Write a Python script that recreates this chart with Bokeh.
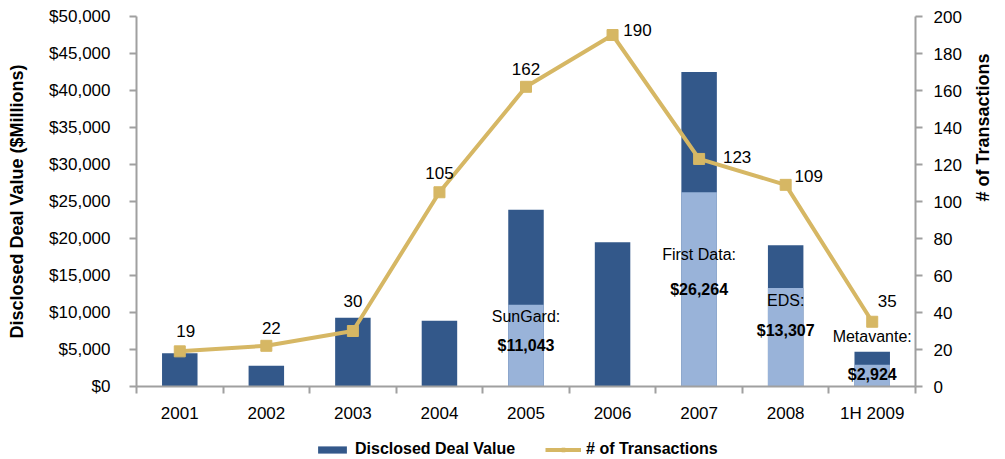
import math
from bokeh.plotting import figure
from bokeh.layouts import column
from bokeh.models import (Range1d, LinearAxis, FixedTicker, NumeralTickFormatter,
                          Legend, LegendItem, ColumnDataSource)
from bokeh.core.properties import value
from bokeh.embed import file_html
from bokeh.resources import INLINE

# ---------------- data ----------------
years = ["2001", "2002", "2003", "2004", "2005", "2006", "2007", "2008", "1H 2009"]
deal_value = [4500, 2800, 9300, 8900, 23900, 19500, 42500, 19100, 4700]
highlight_value = [0, 0, 0, 0, 11043, 0, 26264, 13307, 2924]
highlight_name = ["", "", "", "", "SunGard:", "", "First Data:", "EDS:", "Metavante:"]
transactions = [19, 22, 30, 105, 162, 190, 123, 109, 35]

# ---------------- styles ----------------
DARK = "#33588A"
LIGHT = "#99B3D9"
GOLD = "#D6B764"
AXIS = "#A0A0A0"
FONT = "Liberation Sans"

n = len(years)
xc = [i + 0.5 for i in range(n)]

p = figure(width=1005, height=430, x_range=Range1d(0, n), y_range=Range1d(0, 50000),
           output_backend="svg", toolbar_location=None,
           min_border_left=136, min_border_right=87, min_border_top=16, min_border_bottom=44)
p.xgrid.visible = False
p.ygrid.visible = False
p.outline_line_color = None
p.background_fill_color = "white"
p.border_fill_color = "white"

p.extra_y_ranges = {"tx": Range1d(0, 200)}

# bars
src = ColumnDataSource(dict(x=xc, total=deal_value, hi=highlight_value, tx=transactions))
p.vbar(x="x", top="total", bottom=0, width=0.41, source=src,
       fill_color=DARK, line_color=None)
p.vbar(x="x", top="hi", bottom=0, width=0.41, source=src,
       fill_color=LIGHT, line_color=None)

# line
p.line(x="x", y="tx", source=src, y_range_name="tx", line_color=GOLD, line_width=4)
p.scatter(x="x", y="tx", source=src, y_range_name="tx", marker="square",
          size=11, fill_color=GOLD, line_color=GOLD)

# line labels (pixel offsets, style only)
tx_dx = [6, 5, 0, 0, 0, 25, 38, 23, 15]
tx_dy = [20, 18, 30, 19, 18, 5, 2, 9, 21]
lsrc = ColumnDataSource(dict(x=xc, tx=transactions, t=[str(t) for t in transactions],
                             dx=tx_dx, dy=[-d for d in tx_dy]))
p.text(x="x", y="tx", text="t", source=lsrc, y_range_name="tx",
       x_offset="dx", y_offset="dy", text_align="center", text_baseline="middle",
       text_font=value(FONT), text_font_size="17px", text_color="black")

# deal annotations (pixel offsets below highlighted segment top, style only)
name_dy = [0, 0, 0, 0, 12, 0, 62, 12, -28]
val_dy = [0, 0, 0, 0, 41, 0, 97, 42, 10]
asrc = ColumnDataSource(dict(x=xc, hi=highlight_value, name=highlight_name,
                             val=["${:,}".format(v) if v else "" for v in highlight_value],
                             ndy=name_dy, vdy=val_dy))
p.text(x="x", y="hi", text="name", source=asrc, y_offset="ndy",
       text_align="center", text_baseline="middle",
       text_font=value(FONT), text_font_size="16px", text_color="black")
p.text(x="x", y="hi", text="val", source=asrc, y_offset="vdy",
       text_align="center", text_baseline="middle", text_font_style="bold",
       text_font=value(FONT), text_font_size="16px", text_color="black")

# axes
def style_axis(ax):
    ax.axis_line_color = AXIS
    ax.axis_line_width = 2
    ax.major_tick_line_color = AXIS
    ax.major_tick_line_width = 2
    ax.minor_tick_line_color = None
    ax.major_tick_in = 0
    ax.major_tick_out = 7
    ax.major_label_text_font = FONT
    ax.major_label_text_font_size = "17px"
    ax.major_label_text_color = "black"
    ax.axis_label_text_font = FONT
    ax.axis_label_text_font_size = "18px"
    ax.axis_label_text_font_style = "bold"
    ax.axis_label_text_color = "black"

yl = p.yaxis[0]
style_axis(yl)
yl.ticker = FixedTicker(ticks=list(range(0, 50001, 5000)))
yl.formatter = NumeralTickFormatter(format="$0,0")
yl.axis_label = "Disclosed Deal Value ($Millions)"
yl.major_label_standoff = 19
yl.axis_label_standoff = 19

yr = LinearAxis(y_range_name="tx", ticker=FixedTicker(ticks=list(range(0, 201, 20))),
                axis_label="# of Transactions")
style_axis(yr)
yr.major_label_standoff = 11
yr.axis_label_standoff = 18
if "axis_label_orientation" in yr.properties():
    yr.axis_label_orientation = math.pi / 2
p.add_layout(yr, "right")

xa = p.xaxis[0]
style_axis(xa)
xa.ticker = FixedTicker(ticks=xc, minor_ticks=list(range(n + 1)))
xa.major_label_overrides = {c: y for c, y in zip(xc, years)}
xa.major_tick_out = 0
xa.minor_tick_line_color = AXIS
xa.minor_tick_line_width = 2
xa.minor_tick_out = 7
xa.minor_tick_in = 0
xa.major_label_standoff = 10

# ---------------- legend strip ----------------
lg = figure(width=1005, height=29, x_range=Range1d(0, 1), y_range=Range1d(0, 1),
            output_backend="svg", toolbar_location=None,
            x_axis_location=None, y_axis_location=None,
            min_border_left=0, min_border_right=0, min_border_top=0, min_border_bottom=0)
lg.xgrid.visible = False
lg.ygrid.visible = False
lg.outline_line_color = None
offscreen = ColumnDataSource(dict(x=[-5.0], y=[-5.0]))
k_bar = lg.vbar(x="x", top="y", width=0.1, source=offscreen, fill_color=DARK, line_color=None)
k_line = lg.line(x="x", y="y", source=offscreen, line_color=GOLD, line_width=4)
k_mark = lg.scatter(x="x", y="y", source=offscreen, marker="square", size=11,
                    fill_color=GOLD, line_color=GOLD)
legend = Legend(items=[LegendItem(label="Disclosed Deal Value", renderers=[k_bar]),
                       LegendItem(label="# of Transactions", renderers=[k_line, k_mark])],
                location=(178, 1), orientation="horizontal",
                glyph_width=36, glyph_height=9, label_height=16,
                label_standoff=5, spacing=30, padding=0, margin=0,
                border_line_color=None, background_fill_alpha=0,
                label_text_font=FONT, label_text_font_size="16px",
                label_text_font_style="bold", label_text_color="black")
lg.add_layout(legend)

open("out.html", "w").write(file_html(column(p, lg), INLINE))
